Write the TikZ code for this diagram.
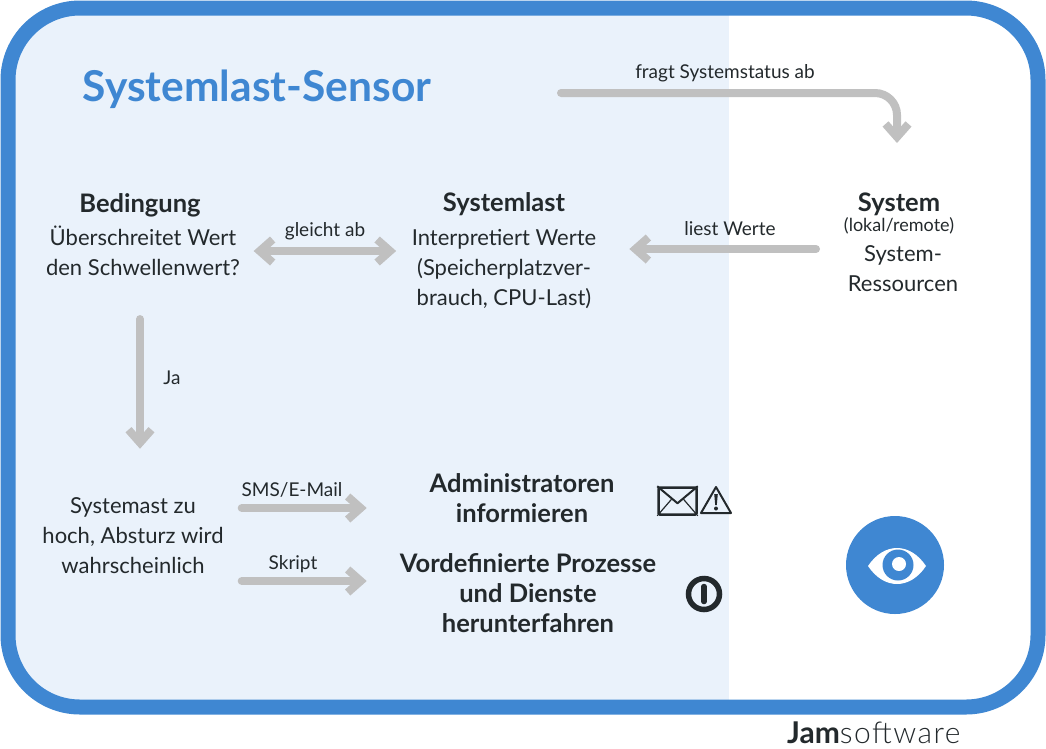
\documentclass[tikz,border=0pt]{standalone}
\usepackage{fontspec}
\setmainfont{Lato}
\newfontfamily\logolight[LetterSpace=5]{Lato Light}
\usetikzlibrary{arrows.meta}
\definecolor{jamblue}{HTML}{3F87D2}
\definecolor{jamlight}{HTML}{EAF2FB}
\definecolor{jamgray}{HTML}{C0C0C0}
\definecolor{jamtext}{HTML}{23292C}
\tikzset{
    txt/.style={text=jamtext, align=center, inner sep=0pt, font=\fontsize{22}{30}\selectfont},
    head/.style={txt, font=\fontsize{25.5}{30}\selectfont\bfseries},
    small/.style={txt, font=\fontsize{19}{20}\selectfont},
    flow/.style={draw=jamgray, line width=8pt, line cap=round, rounded corners=22pt,
        -{Straight Barb[length=13pt, width=23pt, line width=8pt]}},
    flowboth/.style={flow, {Straight Barb[length=13pt, width=23pt, line width=8pt]}-{Straight Barb[length=13pt, width=23pt, line width=8pt]}},
    icon/.style={draw=jamtext, line width=2pt, line join=round},
}
\begin{document}
\begin{tikzpicture}[x=1pt, y=-1pt]
    \useasboundingbox (0,0) rectangle (1046,748);
    \begin{scope}
        \clip[rounded corners=72pt] (8,8) rectangle (1038,707);
        \fill[jamlight] (0,0) rectangle (729,715);
    \end{scope}
    \draw[jamblue, line width=15pt, rounded corners=72pt] (8,8) rectangle (1038,707);

    \node[text=jamblue, inner sep=0pt, font=\fontsize{42.5}{45}\selectfont\bfseries] (title) at (257,89) {Systemlast-Sensor};

    \node[head] (cond) at (140,205) {Bedingung};
    \node[txt] (condtext) at (143,251) {Überschreitet Wert\\den Schwellenwert?};
    \node[head] (load) at (504,204) {Systemlast};
    \node[txt] (loadtext) at (504,269) {Interpretiert Werte\\(Speicherplatzver-\\brauch, CPU-Last)};
    \node[head] (sys) at (899,204) {System};
    \node[small, font=\fontsize{18}{20}\selectfont] (sysmode) at (899,226) {(lokal/remote)};
    \node[txt] (systext) at (903,269) {System-\\Ressourcen};

    \node[txt] (high) at (133,536) {Systemast zu\\hoch, Absturz wird\\wahrscheinlich};
    \node[head] (admin) at (522,498) {Administratoren\\informieren};
    \node[head] (stop) at (528,593) {Vordefinierte Prozesse\\und Dienste\\herunterfahren};

    \node[small] (asks) at (725,73) {fragt Systemstatus ab};
    \node[small] (match) at (325,231) {gleicht ab};
    \node[small] (reads) at (730,229) {liest Werte};
    \node[small] (yes) at (172,378) {Ja};
    \node[small] (sms) at (292,490) {SMS/E-Mail};
    \node[small] (script) at (293,564) {Skript};

    \coordinate (asksfrom) at (561,93);
    \coordinate (sysin) at (897,143);
    \coordinate (readsfrom) at (816,249);
    \draw[flow] (asksfrom) -- (sysin |- asksfrom) -- (sysin);
    \draw[flowboth] ([xshift=13.5pt]condtext.east) -- ([xshift=-15.5pt]loadtext.west |- condtext.east);
    \draw[flow] (readsfrom) -- ([xshift=33pt]loadtext.east |- readsfrom);
    \draw[flow] ([yshift=-43pt]condtext.south -| cond.south) -- ([yshift=49pt]high.north -| cond.south);
    \draw[flow] ([xshift=18pt]high.east |- admin) ++(0,10) -- ++(125,0);
    \draw[flow] ([xshift=18pt]high.east |- stop) ++(0,-12) -- ++(125,0);

    \node[draw=jamtext, line width=2.5pt, rounded corners=1.5pt, minimum width=38pt, minimum height=27pt, inner sep=0pt] (mail) at (677.5,501) {};
    \draw[icon] (mail.north west) -- ([yshift=-17pt]mail.north) -- (mail.north east);
    \draw[icon, line width=1.2pt] (mail.south west) -- ([yshift=-13pt,xshift=-6pt]mail.north);
    \draw[icon, line width=1.2pt] (mail.south east) -- ([yshift=-13pt,xshift=6pt]mail.north);
    \coordinate (warn) at (716,487);
    \draw[icon] (warn) -- (731,513) -- (701,513) -- cycle;
    \fill[jamtext] (714.2,494) -- (717.8,494) -- (716.8,505) -- (715.2,505) -- cycle;
    \fill[jamtext] (716,508.5) circle (2pt);

    \node[circle, draw=jamtext, line width=5.5pt, minimum size=31pt, inner sep=0pt] (power) at (704,594) {};
    \draw[jamtext, line width=5.5pt, line cap=round] (704,586.5) -- (704,601.5);

    \node[circle, fill=jamblue, minimum size=98pt, inner sep=0pt] (eye) at (895,565) {};
    \fill[white] (868,566) .. controls (884,542) and (910,542) .. (926,566) .. controls (910,590) and (884,590) .. (868,566) -- cycle;
    \fill[jamblue] (898,565) circle (15.5pt);
    \fill[white] (899,564) circle (7pt);

    \node[anchor=base west, inner sep=0pt, text=jamtext, font=\fontsize{30}{30}\selectfont] (logo) at (787,743) {\textbf{Jam}{\logolight software}};
\end{tikzpicture}
\end{document}
